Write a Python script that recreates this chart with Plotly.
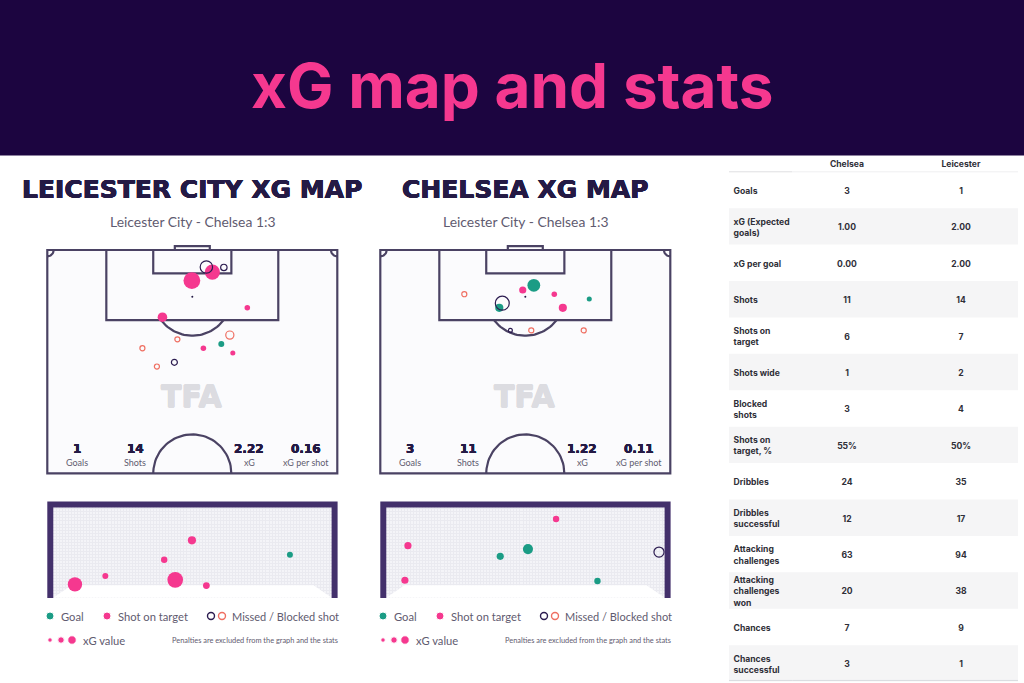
import numpy as np
import plotly.graph_objects as go

# ---------- data ----------
TITLE = "xG map and stats"
MATCH = "Leicester City - Chelsea 1:3"
team_titles = ["LEICESTER CITY XG MAP", "CHELSEA XG MAP"]
stat_names = ["Goals", "Shots", "xG", "xG per shot"]
lei_stats = ["1", "14", "2.22", "0.16"]
che_stats = ["3", "11", "1.22", "0.11"]

# pitch shots: metres from left touchline, metres from goal line, xG
lei_goal_x, lei_goal_y, lei_goal_xg = [40.8], [22.1], [0.07]
lei_on_x = [38.7, 33.9, 46.9, 27.0, 36.6, 43.5]
lei_on_y = [5.2, 7.2, 13.6, 15.8, 23.1, 24.2]
lei_on_xg = [0.45, 0.55, 0.06, 0.18, 0.06, 0.05]
lei_miss_x = [37.3, 41.4, 29.8]
lei_miss_y = [4.0, 4.1, 26.4]
lei_miss_xg = [0.30, 0.08, 0.07]
lei_block_x = [42.8, 30.5, 22.3, 25.7]
lei_block_y = [20.0, 21.0, 23.1, 27.4]
lei_block_xg = [0.13, 0.05, 0.05, 0.05]

che_goal_x = [36.0, 49.0, 27.9]
che_goal_y = [8.3, 11.5, 13.6]
che_goal_xg = [0.32, 0.05, 0.13]
che_on_x = [33.4, 40.8, 42.8]
che_on_y = [9.4, 10.4, 13.6]
che_on_xg = [0.10, 0.06, 0.13]
che_miss_x = [28.6, 30.5]
che_miss_y = [12.5, 18.9]
che_miss_xg = [0.38, 0.03]
che_block_x = [19.7, 35.4, 47.7]
che_block_y = [10.4, 18.9, 18.9]
che_block_xg = [0.05, 0.05, 0.05]

# goal-mouth shots: metres from left post, metres above ground, xG
lei_g_goal_x, lei_g_goal_y, lei_g_goal_xg = [6.23], [1.19], [0.07]
lei_g_on_x = [3.65, 2.92, 1.37, 0.57, 3.21, 4.03]
lei_g_on_y = [1.57, 1.06, 0.63, 0.41, 0.53, 0.38]
lei_g_on_xg = [0.13, 0.08, 0.07, 0.40, 0.48, 0.09]
lei_g_miss_x = [6.94, -0.40, 7.64]
lei_g_miss_y = [2.82, 1.26, 0.41]
lei_g_miss_xg = [0.20, 0.09, 0.08]

che_g_goal_x = [3.00, 3.73, 5.56]
che_g_goal_y = [1.15, 1.34, 0.50]
che_g_goal_xg = [0.10, 0.20, 0.08]
che_g_on_x = [4.47, 0.57, 0.49]
che_g_on_y = [2.13, 1.43, 0.52]
che_g_on_xg = [0.08, 0.10, 0.10]
che_g_miss_x = [6.00, 7.18]
che_g_miss_y = [2.81, 1.26]
che_g_miss_xg = [0.06, 0.20]

# table
table_columns = ["Chelsea", "Leicester"]
table_rows = ["Goals", "xG (Expected<br>goals)", "xG per goal", "Shots", "Shots on<br>target",
              "Shots wide", "Blocked<br>shots", "Shots on<br>target, %", "Dribbles",
              "Dribbles<br>successful", "Attacking<br>challenges", "Attacking<br>challenges<br>won",
              "Chances", "Chances<br>successful"]
chelsea_vals = ["3", "1.00", "0.00", "11", "6", "1", "3", "55%", "24", "12", "63", "20", "7", "3"]
leicester_vals = ["1", "2.00", "2.00", "14", "7", "2", "4", "50%", "35", "17", "94", "38", "9", "1"]

legend_labels = ["Goal", "Shot on target", "Missed / Blocked shot", "xG value"]
NOTE = "Penalties are excluded from the graph and the stats"

# ---------- styles ----------
W, H = 1024, 683
BAND = "#1c0540"
PINK = "#f5388f"
GREEN = "#1b9c85"
NAVY = "#2c1c50"
RED = "#ef6f62"
LINE = "#4a4263"
FRAME = "#43306b"
TXT = "#5f5b70"
DARK = "#241a45"
SANS = "Lato, sans-serif"
HEAVY = "'DejaVu Sans', sans-serif"
DPITCH = 16.0  # marker diameter in px for xG = 1
PAD_M = 3      # metres of spare axis around the pitch
M_PX_X = 290 / 68
M_PX_Y = 223.3 / 52.5

PX = lambda x: x / W
PY = lambda y: 1 - y / H

fig = go.Figure()
shapes, annots = [], []


def embolden(color, r=0.35):
    return f"{r}px 0 0 {color}, -{r}px 0 0 {color}, 0 {r}px 0 {color}, 0 -{r}px 0 {color}"


def text(px, py, s, size, color, family=SANS, anchor="center", weight=400, shadow=None):
    font = dict(size=size, color=color, family=family, weight=weight)
    if shadow:
        font["shadow"] = shadow
    annots.append(dict(x=PX(px), y=PY(py), xref="paper", yref="paper", text=s, showarrow=False,
                       xanchor=anchor, yanchor="middle", align=anchor, font=font))


def rect(x0, y0, x1, y1, color):
    shapes.append(dict(type="rect", xref="paper", yref="paper", x0=PX(x0), x1=PX(x1),
                       y0=PY(y0), y1=PY(y1), fillcolor=color, line_width=0, layer="below"))


def shots(x, y, xg, kind, xa, ya):
    d = dict(goal=(GREEN, False), on=(PINK, False), miss=(NAVY, True), block=(RED, True))[kind]
    marker = dict(size=xg, sizemode="area", sizeref=1 / DPITCH ** 2, opacity=1)
    if d[1]:
        marker.update(color="rgba(255,255,255,0)", line=dict(color=d[0], width=1.2))
    else:
        marker.update(color=d[0], line=dict(width=0))
    fig.add_trace(go.Scatter(x=x, y=y, mode="markers", marker=marker, xaxis=xa, yaxis=ya,
                             cliponaxis=False, hoverinfo="skip", showlegend=False))


def polyline(segments):
    xs, ys = [], []
    for sx, sy in segments:
        xs += list(sx) + [None]
        ys += list(sy) + [None]
    return xs, ys


def pitch(xa, ya):
    t = np.linspace(0, np.pi, 50)
    da = np.arccos((16.5 - 11) / 9.15)
    a = np.linspace(-da, da, 40)
    c = np.linspace(0, np.pi / 2, 12)
    segs = [
        ([0, 68, 68, 0, 0, 68], [0, 0, 52.5, 52.5, 0, 0]),
        ([13.84, 13.84, 54.16, 54.16], [0, 16.5, 16.5, 0]),
        ([24.84, 24.84, 43.16, 43.16], [0, 5.5, 5.5, 0]),
        ([29.9, 29.9, 38.1, 38.1], [0, -0.9, -0.9, 0]),
        (34 + 9.15 * np.sin(a), 11 + 9.15 * np.cos(a)),
        (34 + 9.15 * np.cos(t), 52.5 - 9.15 * np.sin(t)),
        (1.5 * np.cos(c), 1.5 * np.sin(c)),
        (68 - 1.5 * np.cos(c), 1.5 * np.sin(c)),
    ]
    xs, ys = polyline(segs)
    fig.add_trace(go.Scatter(x=xs, y=ys, mode="lines", line=dict(color=LINE, width=2.2), xaxis=xa, yaxis=ya,
                             cliponaxis=False, hoverinfo="skip", showlegend=False))
    fig.add_trace(go.Scatter(x=[34], y=[11], mode="markers", marker=dict(size=2, color=DARK), xaxis=xa, yaxis=ya,
                             hoverinfo="skip", showlegend=False))


def goal(xa, ya, off):
    fig.add_trace(go.Scatter(x=[0, 0.48, 6.85, 7.33, 0], y=[0.06, 0.39, 0.39, 0.06, 0.06], mode="lines",
                             fill="toself", fillcolor="white", line=dict(width=0), xaxis=xa, yaxis=ya,
                             cliponaxis=False, hoverinfo="skip", showlegend=False))
    fig.add_trace(go.Scatter(x=[50.3 + off, 50.3 + off, 334.6 + off, 334.6 + off],
                             y=[598, 504.6, 504.6, 598], mode="lines",
                             line=dict(color=FRAME, width=6), xaxis="x6", yaxis="y6",
                             hoverinfo="skip", showlegend=False))


# header band
rect(0, 0, W, 155.5, BAND)
text(512, 86, TITLE, 62, PINK, family="Inter, sans-serif", weight=700)

# panel layout
panels = [
    dict(off=0, title_cx=192, stats=lei_stats, xa="x", ya="y", gxa="x3", gya="y3"),
    dict(off=333, title_cx=525, stats=che_stats, xa="x2", ya="y2", gxa="x4", gya="y4"),
]
for i, p in enumerate(panels):
    o = p["off"]
    rect(47.3 + o, 250, 337.3 + o, 473.3, "#fbfbfd")
    rect(53.3 + o, 507.3, 331.7 + o, 597.7, "#f4f4f8")
    pitch(p["xa"], p["ya"])
    goal(p["gxa"], p["gya"], o)
    text(p["title_cx"], 189, team_titles[i], 25, DARK, family=HEAVY, weight=700, shadow=embolden(DARK, 0.4))
    text(p["title_cx"], 222, MATCH, 13.9, TXT)
    text(192 + o, 396, "TFA", 30, "#dcdce1", family=HEAVY, weight=700, shadow=embolden("#dcdce1", 0.6))
    for px, val, lab in zip([77, 135, 249, 306], p["stats"], stat_names):
        text(px + o, 449, val, 12, DARK, family=HEAVY, weight=700, shadow=embolden(DARK, 0.2))
        text(px + o, 462.5, lab, 9, TXT)
    # legend
    text(59 + o, 616, legend_labels[0], 11.2, TXT, anchor="left")
    text(116 + o, 616, legend_labels[1], 11.2, TXT, anchor="left")
    text(230 + o, 616, legend_labels[2], 11, TXT, anchor="left")
    text(81 + o, 640, legend_labels[3], 11.2, TXT, anchor="left")
    text(340 + o, 640, NOTE, 7.4, TXT, anchor="right")

# shots
for kind, x, y, g in [("goal", lei_goal_x, lei_goal_y, lei_goal_xg), ("on", lei_on_x, lei_on_y, lei_on_xg),
                      ("miss", lei_miss_x, lei_miss_y, lei_miss_xg), ("block", lei_block_x, lei_block_y, lei_block_xg)]:
    shots(x, y, g, kind, "x", "y")
for kind, x, y, g in [("goal", che_goal_x, che_goal_y, che_goal_xg), ("on", che_on_x, che_on_y, che_on_xg),
                      ("miss", che_miss_x, che_miss_y, che_miss_xg), ("block", che_block_x, che_block_y, che_block_xg)]:
    shots(x, y, g, kind, "x2", "y2")
for kind, x, y, g in [("goal", lei_g_goal_x, lei_g_goal_y, lei_g_goal_xg), ("on", lei_g_on_x, lei_g_on_y, lei_g_on_xg),
                      ("miss", lei_g_miss_x, lei_g_miss_y, lei_g_miss_xg)]:
    shots(x, y, g, kind, "x3", "y3")
for kind, x, y, g in [("goal", che_g_goal_x, che_g_goal_y, che_g_goal_xg), ("on", che_g_on_x, che_g_on_y, che_g_on_xg),
                      ("miss", che_g_miss_x, che_g_miss_y, che_g_miss_xg)]:
    shots(x, y, g, kind, "x4", "y4")

# legend swatches on a page-sized axis
for o in [0, 333]:
    fig.add_trace(go.Scatter(
        x=[50 + o, 107 + o, 50 + o, 61 + o, 72 + o], y=[616, 616, 640, 640, 640], mode="markers",
        marker=dict(size=[8, 8, 4.5, 6.5, 8.5], color=[GREEN, PINK, PINK, PINK, PINK], opacity=1),
        xaxis="x6", yaxis="y6", hoverinfo="skip", showlegend=False))
    fig.add_trace(go.Scatter(
        x=[211 + o, 222 + o], y=[616, 616], mode="markers",
        marker=dict(size=7, color="rgba(255,255,255,0)", line=dict(color=[NAVY, RED], width=1.4)),
        xaxis="x6", yaxis="y6", hoverinfo="skip", showlegend=False))

# table
rows = list(range(1, len(table_rows) + 1))
text_rows = [r + 0.05 for r in rows]
for r in rows:
    if r % 2 == 0:
        shapes.append(dict(type="rect", xref="x5", yref="y5", x0=-0.035, x1=2.5, y0=r - 0.5, y1=r + 0.5,
                           fillcolor="#f5f5f6", line_width=0, layer="below"))
for x0, x1, col in [(-0.035, 0.52, "#dfdfe2"), (0.52, 2.5, "#efeff1")]:
    shapes.append(dict(type="line", xref="x5", yref="y5", x0=x0, x1=x1, y0=0.5, y1=0.5,
                       line=dict(color=col, width=1)))
    shapes.append(dict(type="line", xref="x5", yref="y5", x0=x0, x1=x1, y0=14.47, y1=14.47,
                       line=dict(color="#d9dbe0", width=1)))
TFONT = dict(size=8.6, color="#2f2f38", family="Inter, sans-serif", weight=700)
fig.add_trace(go.Scatter(x=[0.005] * len(rows), y=text_rows, text=table_rows, mode="text", textposition="middle right",
                         textfont=TFONT, xaxis="x5", yaxis="y5", cliponaxis=False, hoverinfo="skip", showlegend=False))
fig.add_trace(go.Scatter(x=[1] * len(rows), y=text_rows, text=chelsea_vals, mode="text", textposition="middle center",
                         textfont=TFONT, xaxis="x5", yaxis="y5", cliponaxis=False, hoverinfo="skip", showlegend=False))
fig.add_trace(go.Scatter(x=[2] * len(rows), y=text_rows, text=leicester_vals, mode="text", textposition="middle center",
                         textfont=TFONT, xaxis="x5", yaxis="y5", cliponaxis=False, hoverinfo="skip", showlegend=False))
fig.add_trace(go.Scatter(x=[1, 2], y=[0.31, 0.31], text=table_columns, mode="text", textposition="middle center",
                         textfont=TFONT, xaxis="x5", yaxis="y5", cliponaxis=False, hoverinfo="skip", showlegend=False))


# axes
def hidden(rng, dom, anchor):
    return dict(range=rng, domain=dom, anchor=anchor, visible=False, fixedrange=True)


def dx(a, b):
    return [a / W, b / W]


def dy(top, bot):
    return [1 - bot / H, 1 - top / H]


def net(rng, dom, anchor):
    return dict(range=rng, domain=dom, anchor=anchor, showgrid=True, gridcolor="#eaeaf0", gridwidth=0.5, dtick=0.08,
                tick0=0, zeroline=False, showline=False, showticklabels=False, ticks="", fixedrange=True)


px_pad = PAD_M * M_PX_X
py_pad = PAD_M * M_PX_Y
fig.update_layout(
    width=W, height=H, autosize=False, margin=dict(l=0, r=0, t=0, b=0),
    paper_bgcolor="white", plot_bgcolor="rgba(0,0,0,0)", showlegend=False,
    shapes=shapes, annotations=annots,
    xaxis=hidden([-PAD_M, 68 + PAD_M], dx(47.3 - px_pad, 337.3 + px_pad), "y"),
    yaxis=hidden([52.5 + PAD_M, -PAD_M], dy(250 - py_pad, 473.3 + py_pad), "x"),
    xaxis2=hidden([-PAD_M, 68 + PAD_M], dx(380.3 - px_pad, 670.3 + px_pad), "y2"),
    yaxis2=hidden([52.5 + PAD_M, -PAD_M], dy(250 - py_pad, 473.3 + py_pad), "x2"),
    xaxis3=net([0, 7.33], dx(53.3, 331.7), "y3"), yaxis3=net([0.06, 2.44], dy(507.3, 597.7), "x3"),
    xaxis4=net([0, 7.33], dx(386.3, 664.7), "y4"), yaxis4=net([0.06, 2.44], dy(507.3, 597.7), "x4"),
    xaxis5=hidden([-0.035, 2.5], dx(729, 1018), "y5"), yaxis5=hidden([14.54, 0.066], dy(156, 683), "x5"),
    xaxis6=hidden([0, W], [0, 1], "y6"), yaxis6=hidden([H, 0], [0, 1], "x6"),
)

fig.write_html("out.html", config=dict(displayModeBar=False),
               post_script="document.body.style.margin='0';")
